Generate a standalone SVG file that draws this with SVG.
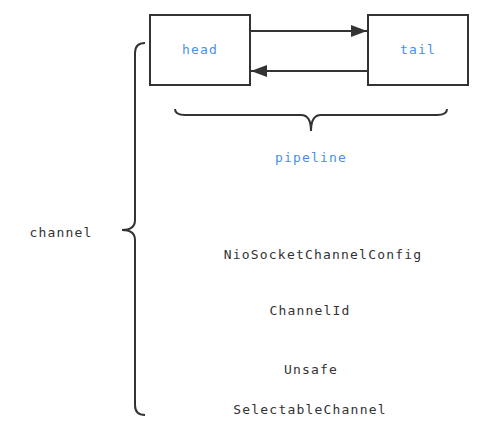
<svg xmlns="http://www.w3.org/2000/svg" width="489" height="434" viewBox="0 0 489 434">
<defs>
<marker id="arr" markerWidth="16" markerHeight="12" refX="16" refY="6" orient="auto" markerUnits="userSpaceOnUse">
<path d="M0,0 L16,6 L0,12 Z" fill="#333"/>
</marker>
<style>
.box{fill:#fff;stroke:#333;stroke-width:2}
.ln{fill:none;stroke:#333;stroke-width:2}
.t{font-family:"DejaVu Sans Mono","Liberation Mono",monospace;font-size:13px;letter-spacing:1.2px;fill:#333;text-anchor:middle;dominant-baseline:central}
.b{fill:#4a8fe6}
</style>
</defs>
<rect width="489" height="434" fill="#fff"/>
<g id="connectors">
<line class="ln" x1="250" y1="31" x2="367" y2="31" marker-end="url(#arr)"/>
<line class="ln" x1="368" y1="71" x2="251" y2="71" marker-end="url(#arr)"/>
</g>
<g id="head"><rect class="box" x="150" y="15" width="100" height="70"/><text class="t b" x="200" y="49">head</text></g>
<g id="tail"><rect class="box" x="368" y="15" width="100" height="70"/><text class="t b" x="418" y="49">tail</text></g>
<g id="channel-brace"><path class="ln" d="M145,43 Q135,43 135,53 L135,220 Q135,230 122,230 Q135,230 135,240 L135,405 Q135,415 145,415"/></g>
<g id="pipeline-brace"><path class="ln" d="M175,109 Q175,115 185,115 L301,115 Q311,115 311,131 Q311,115 321,115 L437,115 Q447,115 447,109"/></g>
<g id="pipeline"><text class="t b" x="311" y="157">pipeline</text></g>
<g id="channel"><text class="t" x="61" y="232">channel</text></g>
<g id="config"><text class="t" x="323" y="254">NioSocketChannelConfig</text></g>
<g id="channelId"><text class="t" x="310" y="310">ChannelId</text></g>
<g id="unsafe"><text class="t" x="311" y="369">Unsafe</text></g>
<g id="selectable"><text class="t" x="310" y="409">SelectableChannel</text></g>
</svg>
